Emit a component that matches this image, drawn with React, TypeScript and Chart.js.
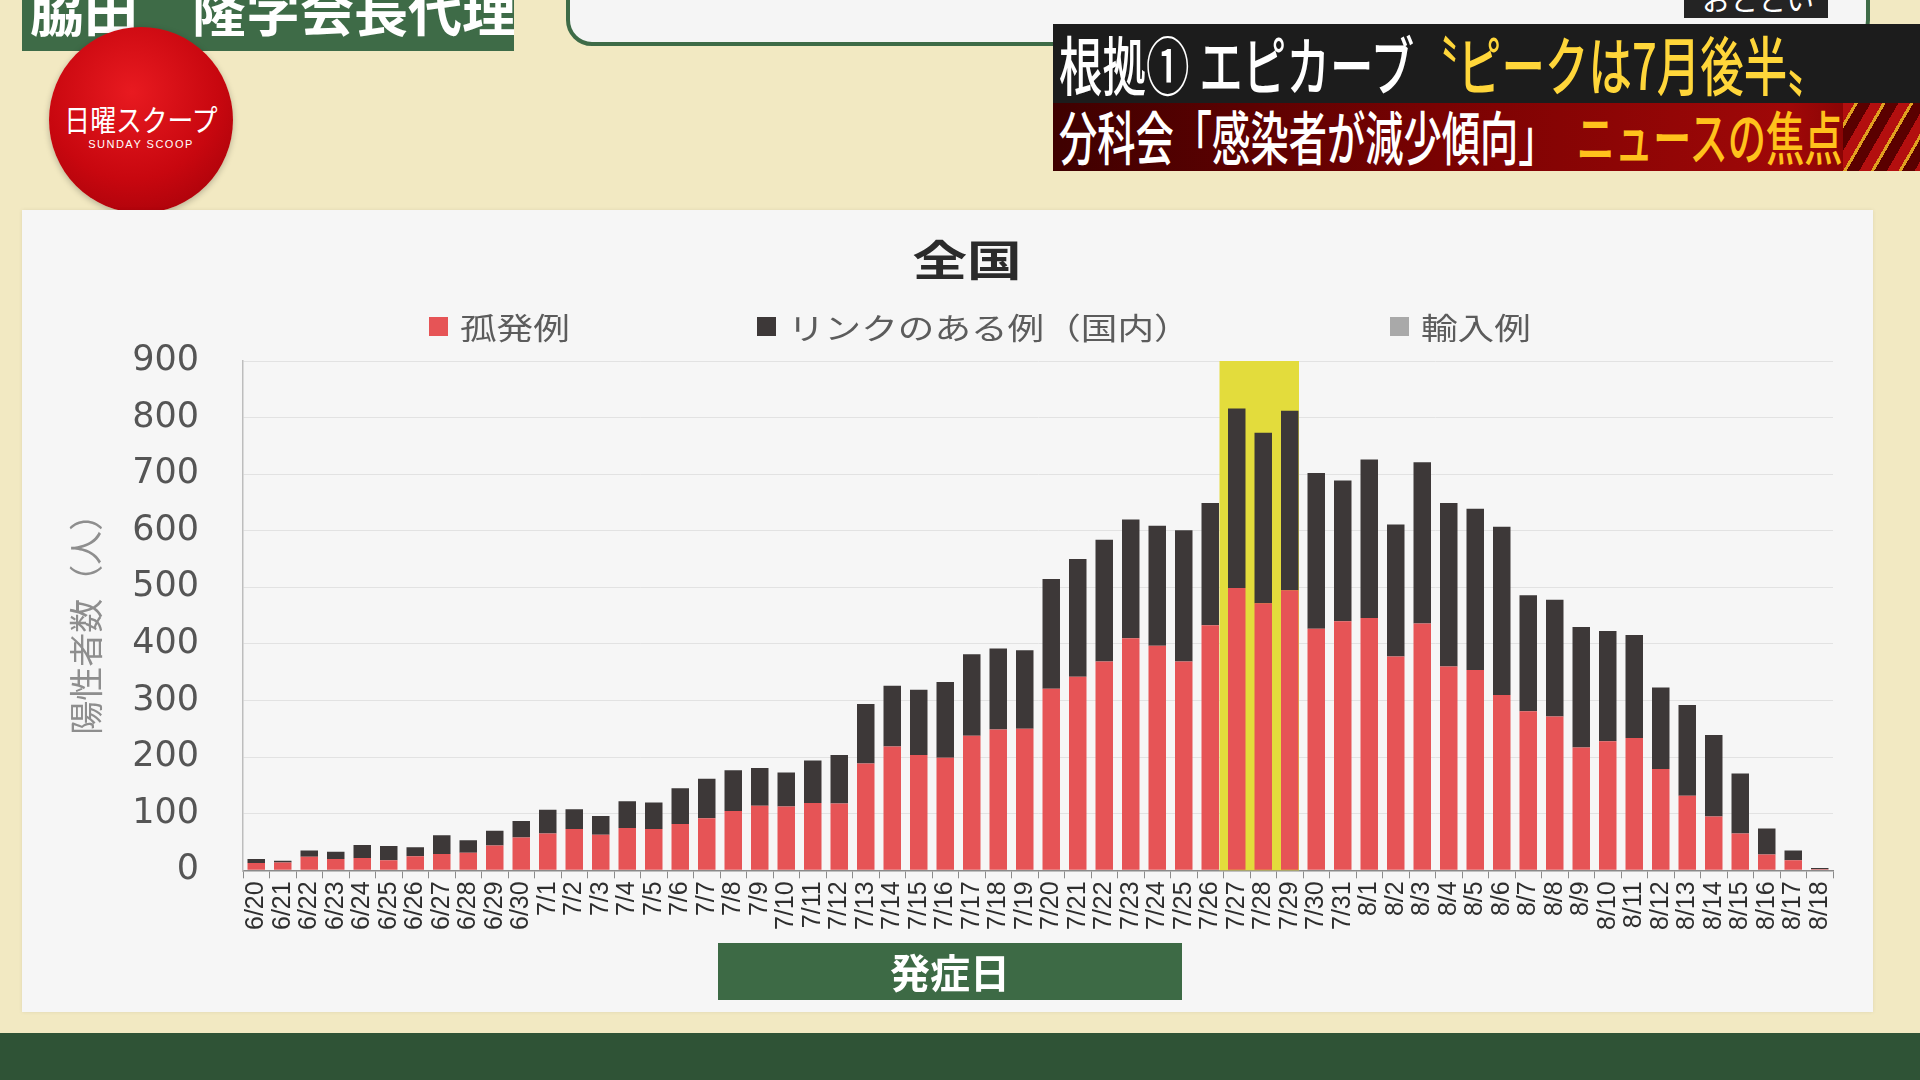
import React, { useEffect, useRef } from 'react';
import { Chart, registerables } from 'chart.js';

Chart.register(...registerables);

// ---- data ----
const dates = [
  '6/20', '6/21', '6/22', '6/23', '6/24', '6/25', '6/26', '6/27', '6/28', '6/29', '6/30',
  '7/1', '7/2', '7/3', '7/4', '7/5', '7/6', '7/7', '7/8', '7/9', '7/10',
  '7/11', '7/12', '7/13', '7/14', '7/15', '7/16', '7/17', '7/18', '7/19', '7/20',
  '7/21', '7/22', '7/23', '7/24', '7/25', '7/26', '7/27', '7/28', '7/29', '7/30', '7/31',
  '8/1', '8/2', '8/3', '8/4', '8/5', '8/6', '8/7', '8/8', '8/9', '8/10',
  '8/11', '8/12', '8/13', '8/14', '8/15', '8/16', '8/17', '8/18',
];

const isolated = [
  13, 14, 24, 20, 22, 18, 25, 29, 31, 44, 58,
  65, 73, 63, 75, 73, 82, 92, 105, 114, 113,
  119, 118, 189, 219, 204, 199, 238, 249, 250, 321,
  342, 369, 410, 397, 369, 433, 499, 472, 495, 427, 440,
  446, 378, 436, 360, 354, 310, 281, 272, 217, 228,
  234, 179, 132, 95, 65, 28, 18, 2,
];

const linked = [
  7, 3, 11, 13, 23, 25, 16, 33, 22, 26, 29,
  42, 35, 33, 47, 47, 63, 70, 72, 67, 60,
  75, 86, 105, 107, 115, 134, 144, 143, 139, 194,
  208, 215, 210, 212, 232, 216, 317, 301, 317, 275, 249,
  280, 233, 285, 289, 285, 297, 205, 206, 213, 195,
  182, 144, 160, 144, 106, 46, 17, 2,
];

const imported = [
  0, 0, 0, 0, 0, 0, 0, 0, 0, 0, 0,
  0, 0, 0, 0, 0, 0, 0, 0, 0, 0,
  0, 0, 0, 0, 0, 0, 0, 0, 0, 0,
  0, 0, 0, 0, 0, 0, 0, 0, 0, 0, 0,
  0, 0, 0, 0, 0, 0, 0, 0, 0, 0,
  0, 0, 0, 0, 0, 0, 0, 0,
];

const seriesLabels = ['孤発例', 'リンクのある例（国内）', '輸入例'];
const yTicks = [0, 100, 200, 300, 400, 500, 600, 700, 800, 900];
const highlightRange = ['7/27', '7/29'];
const chartTitle = '全国';
const yAxisTitle = '陽性者数（人）';
const xAxisTitle = '発症日';

// ---- styles ----
const seriesColors = ['#e65456', '#3d3838', '#a9a9a9'];
const legendX = [429, 757, 1390];
const CJK = '"Noto Sans CJK JP", "Noto Sans", sans-serif';
const Y_AXIS_WIDTH = 221;

const highlightPlugin = {
  id: 'peakHighlight',
  beforeDatasetsDraw(chart: any) {
    const x = chart.scales.x;
    const y = chart.scales.y;
    const i0 = dates.indexOf(highlightRange[0]);
    const i1 = dates.indexOf(highlightRange[1]);
    const half = (x.getPixelForValue(1) - x.getPixelForValue(0)) / 2;
    const left = x.getPixelForValue(i0) - half - 4;
    const right = x.getPixelForValue(i1) + half - 4;
    const top = y.getPixelForValue(yTicks[yTicks.length - 1]);
    const bottom = y.getPixelForValue(0);
    const ctx = chart.ctx;
    ctx.save();
    ctx.fillStyle = '#e3dc3c';
    ctx.fillRect(left, top, right - left, bottom - top);
    ctx.restore();
  },
};

function ChartCanvas() {
  const ref = useRef<HTMLCanvasElement | null>(null);
  useEffect(() => {
    if (!ref.current) return;
    const chart = new Chart(ref.current, {
      type: 'bar',
      data: {
        labels: dates,
        datasets: [isolated, linked, imported].map((d, i) => ({
          label: seriesLabels[i],
          data: d,
          backgroundColor: seriesColors[i],
          borderWidth: 0,
          barPercentage: 0.66,
          categoryPercentage: 1,
        })),
      },
      options: {
        responsive: false,
        animation: false,
        layout: { padding: { top: 151, right: 40, bottom: 79, left: 0 } },
        plugins: {
          legend: { display: false },
          title: { display: false },
          tooltip: { enabled: false },
        },
        scales: {
          x: {
            stacked: true,
            grid: {
              offset: true,
              drawOnChartArea: false,
              drawTicks: true,
              tickLength: 8,
              color: '#8a8a8a',
            },
            border: { display: true, color: '#8a8a8a', width: 1.5 },
            ticks: {
              autoSkip: false,
              maxRotation: 90,
              minRotation: 90,
              padding: 3,
              color: '#2e2e2e',
              font: { family: '"Liberation Sans", Arial, sans-serif', size: 25 },
            },
          },
          y: {
            stacked: true,
            min: 0,
            max: 900,
            afterBuildTicks: (scale: any) => {
              scale.ticks = yTicks.map((v) => ({ value: v }));
            },
            afterFit: (scale: any) => {
              scale.width = Y_AXIS_WIDTH;
            },
            grid: { color: '#e2e2e2', lineWidth: 1, drawTicks: false },
            border: { display: true, color: '#bdbdbd', width: 1.5 },
            ticks: {
              padding: 44,
              color: '#555555',
              font: { family: '"DejaVu Sans", sans-serif', size: 35 },
            },
            title: {
              display: true,
              text: yAxisTitle,
              color: '#8e8e8e',
              font: { family: CJK, size: 34 },
              padding: { top: 44, bottom: 10 },
            },
          },
        },
      },
      plugins: [highlightPlugin],
    });
    return () => chart.destroy();
  }, []);
  return <canvas ref={ref} width={1851} height={802} style={{ position: 'absolute', left: 0, top: 0 }} />;
}

export default function App() {
  return (
    <div
      style={{
        position: 'fixed',
        left: 0,
        top: 0,
        width: 1920,
        height: 1080,
        overflow: 'hidden',
        background: '#f2e9c2',
        fontFamily: CJK,
      }}
    >
      {/* top name plate */}
      <div style={{ position: 'absolute', left: 22, top: 0, width: 492, height: 51, background: '#3e6b47', overflow: 'hidden' }}>
        <div style={{ position: 'absolute', left: 8, top: -18, fontSize: 54, lineHeight: '54px', fontWeight: 700, color: '#ffffff', whiteSpace: 'nowrap' }}>
          脇田　隆字会長代理
        </div>
      </div>
      {/* top white rounded box */}
      <div style={{ position: 'absolute', left: 566, top: -40, width: 1296, height: 78, border: '4px solid #3e6b47', borderRadius: 26, background: '#f5f5f5' }} />
      <div style={{ position: 'absolute', left: 1684, top: 0, width: 144, height: 18, background: '#242424', overflow: 'hidden' }}>
        <div style={{ position: 'absolute', left: 18, top: -16, fontSize: 28, lineHeight: '30px', color: '#fff', whiteSpace: 'nowrap' }}>おととい</div>
      </div>

      {/* logo */}
      <div
        style={{
          position: 'absolute',
          left: 49,
          top: 27,
          width: 184,
          height: 186,
          borderRadius: '50%',
          background: 'radial-gradient(circle at 45% 35%, #e81a20 0%, #c8070f 55%, #9a0008 100%)',
          boxShadow: '0 2px 6px rgba(0,0,0,0.25)',
        }}
      >
        <div style={{ position: 'absolute', left: 0, width: 184, top: 74, textAlign: 'center', color: '#fff', fontSize: 30, lineHeight: '34px', transform: 'scaleX(0.86)', whiteSpace: 'nowrap' }}>
          日曜スクープ
        </div>
        <div style={{ position: 'absolute', left: 0, width: 184, top: 111, textAlign: 'center', color: '#fff', fontSize: 11, letterSpacing: 1.5, fontFamily: '"Liberation Sans", Arial, sans-serif', whiteSpace: 'nowrap' }}>
          SUNDAY SCOOP
        </div>
      </div>

      {/* captions */}
      <div style={{ position: 'absolute', left: 1053, top: 24, width: 867, height: 79, background: '#1c1c1c', overflow: 'hidden' }}>
        <div style={{ position: 'absolute', left: 6, top: 3, fontSize: 64, lineHeight: '70px', fontWeight: 500, whiteSpace: 'nowrap', transform: 'scaleX(0.68)', transformOrigin: 'left top' }}>
          <span style={{ color: '#ffffff' }}>根拠① エピカーブ</span>
          <span style={{ color: '#ffd63a' }}>〝ピークは7月後半〟</span>
        </div>
      </div>
      <div style={{ position: 'absolute', left: 1053, top: 103, width: 867, height: 68, background: 'linear-gradient(90deg, #3e0000 0%, #7a0202 45%, #a00808 85%, #6a0000 100%)', overflow: 'hidden' }}>
        <div style={{ position: 'absolute', left: 790, top: 0, width: 140, height: 68, background: 'repeating-linear-gradient(120deg, #b30f0f 0px, #b30f0f 10px, #e0a020 10px, #e0a020 13px, #5a0000 13px, #5a0000 24px)' }} />
        <div style={{ position: 'absolute', left: 6, top: -1, fontSize: 58, lineHeight: '66px', fontWeight: 500, whiteSpace: 'nowrap', transform: 'scaleX(0.66)', transformOrigin: 'left top' }}>
          <span style={{ color: '#ffffff' }}>分科会「感染者が減少傾向」</span>
          <span style={{ color: '#ffc21c', marginLeft: 30 }}>ニュースの焦点</span>
        </div>
      </div>

      {/* chart panel */}
      <div style={{ position: 'absolute', left: 22, top: 210, width: 1851, height: 802, background: '#f6f6f6', boxShadow: '0 0 4px rgba(0,0,0,0.08)' }}>
        <ChartCanvas />
      </div>

      {/* chart title */}
      <div style={{ position: 'absolute', left: 767, top: 232, width: 400, textAlign: 'center', fontSize: 42, lineHeight: '52px', fontWeight: 700, color: '#2b2b2b', transform: 'scaleX(1.3)' }}>
        {chartTitle}
      </div>

      {/* legend */}
      {seriesLabels.map((label, i) => (
        <div key={label} style={{ position: 'absolute', left: legendX[i], top: 306, height: 40, display: 'flex', alignItems: 'center', whiteSpace: 'nowrap' }}>
          <div style={{ width: 19, height: 19, background: seriesColors[i], marginRight: 12 }} />
          <div style={{ fontSize: 30, color: '#5c5c5c', transform: 'scaleX(1.22)', transformOrigin: 'left center' }}>{label}</div>
        </div>
      ))}

      {/* x axis title box */}
      <div style={{ position: 'absolute', left: 718, top: 943, width: 464, height: 57, background: '#3d6a45', color: '#ffffff', fontSize: 40, fontWeight: 700, lineHeight: '57px', textAlign: 'center' }}>
        {xAxisTitle}
      </div>

      {/* bottom desk band */}
      <div style={{ position: 'absolute', left: 0, top: 1033, width: 1920, height: 47, background: '#2f5336' }} />
    </div>
  );
}
